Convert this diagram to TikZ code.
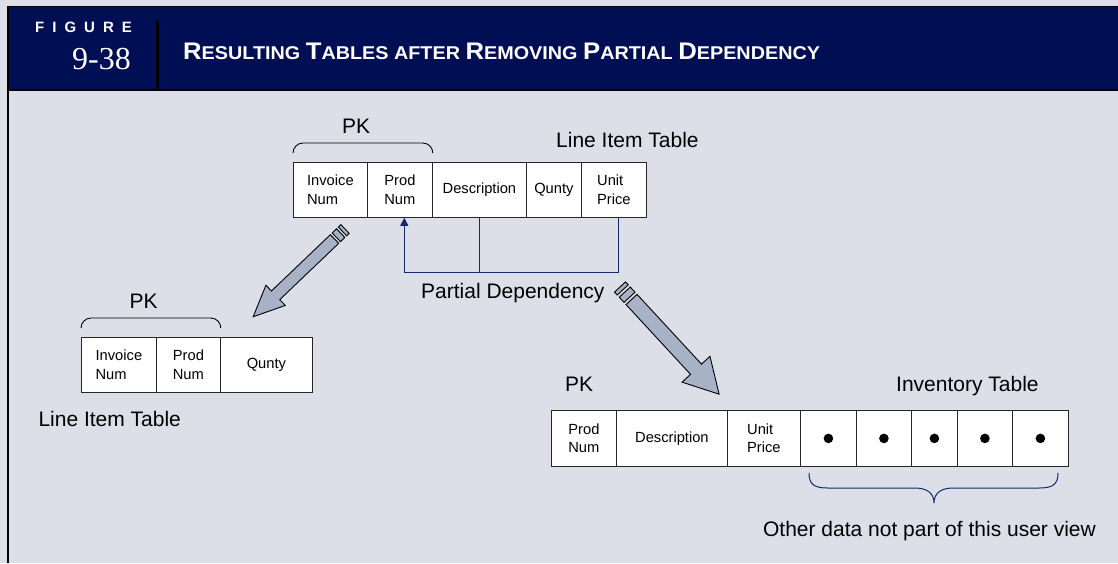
\documentclass[tikz,border=0pt]{standalone}
\usepackage{graphicx}
\usepackage{fontspec}
\setmainfont{Liberation Sans}
\newfontfamily\numfont{Liberation Serif}
\usetikzlibrary{arrows.meta}
\definecolor{bgc}{RGB}{220,223,232}
\definecolor{hdr}{RGB}{0,14,84}
\definecolor{arrfill}{RGB}{168,178,198}
\definecolor{depc}{RGB}{20,40,110}
\newcommand\smcap[2]{{\fontsize{24}{24}\selectfont #1}{\fontsize{18.5}{18.5}\selectfont #2}}
\begin{document}
\begin{tikzpicture}[x=1pt,y=-1pt,
  cell/.style={draw=black!85, line width=0.8pt, fill=white, inner sep=0pt,
    anchor=north west, font=\fontsize{14.7}{18.5}\selectfont, align=left},
  lbl/.style={font=\fontsize{21}{24}\selectfont, inner sep=0pt, anchor=base west},
  depline/.style={draw=depc, line width=1pt},
  fat/.style={fill=arrfill, draw=black, line width=0.9pt, line join=miter},
  pkbrace/.style={draw=black, line width=0.9pt, rounded corners=10pt},
  curly/.style={draw=depc, line width=1pt}
]
\useasboundingbox (0,0) rectangle (1118,563);
% background and header
\fill[bgc] (0,0) rectangle (1118,563);
\fill[hdr] (8,7) rectangle (1118,89);
\draw[line width=1.6pt] (7.5,6.6) -- (1118,6.6);
\draw[line width=2pt] (7.6,6) -- (7.6,563);
\draw[line width=2pt] (8,89.6) -- (1118,89.6);
\draw[line width=2.5pt] (157.3,21) -- (157.3,89);
\node[anchor=base west, inner sep=0pt, text=white, font=\fontsize{15}{15}\selectfont\bfseries] (figlbl) at (35,32.3)
  {F\hspace{8pt}I\hspace{8pt}G\hspace{8pt}U\hspace{8pt}R\hspace{8pt}E};
\node[anchor=base east, inner sep=0pt, text=white, font=\numfont\fontsize{32}{32}\selectfont] (fignum) at (131,69.3) {9-38};
\node[anchor=base west, inner sep=0pt, text=white, font=\fontsize{18.5}{20}\selectfont\bfseries] (title) at (183,59)
  {\scalebox{1.07}[1]{\smcap{R}{ESULTING} \smcap{T}{ABLES AFTER} \smcap{R}{EMOVING} \smcap{P}{ARTIAL} \smcap{D}{EPENDENCY}}};

% top table
\node[cell, minimum width=74pt, minimum height=55pt] (t1) at (293,162) {Invoice\\Num};
\node[cell, minimum width=65pt, minimum height=55pt] (t2) at (367,162) {Prod\\Num};
\node[cell, minimum width=94pt, minimum height=55pt] (t3) at (432,162) {Description};
\node[cell, minimum width=55pt, minimum height=55pt] (t4) at (526,162) {Qunty};
\node[cell, minimum width=65pt, minimum height=55pt] (t5) at (581,162) {Unit\\Price};
\draw[pkbrace] ([yshift=9pt]t1.north west) -- ++(0,-10) -| ([yshift=9pt]t2.north east);
\node[lbl] (pk1) at (342,133.3) {PK};
\node[lbl] (lit1) at (556,147) {Line Item Table};

% partial dependency connector
\coordinate (j) at (404.3,272);
\draw[depline] ([xshift=4.5pt]t5.south) |- (j);
\draw[depline] (t3.south) -- (t3.south |- j);
\draw[depline, -{Triangle[length=8pt,width=8pt]}] (j) -- (j |- t2.south);
\node[lbl] (pd) at (421,298) {Partial Dependency};

% bottom-left table
\node[cell, minimum width=75pt, minimum height=55pt] (b1) at (81,337) {Invoice\\Num};
\node[cell, minimum width=64pt, minimum height=55pt] (b2) at (156,337) {Prod\\Num};
\node[cell, minimum width=92pt, minimum height=55pt] (b3) at (220,337) {Qunty};
\draw[pkbrace] ([yshift=9pt]b1.north west) -- ++(0,-10) -| ([yshift=9pt]b2.north east);
\node[lbl] (pk2) at (129.5,308) {PK};
\node[lbl] (lit2) at (38.3,426.7) {Line Item Table};

% bottom-right table
\node[cell, minimum width=65pt, minimum height=56pt] (r1) at (551,410) {Prod\\Num};
\node[cell, minimum width=111pt, minimum height=56pt] (r2) at (616,410) {Description};
\node[cell, minimum width=73pt, minimum height=56pt] (r3) at (727,410) {Unit\\Price};
\node[cell, minimum width=56pt, minimum height=56pt] (r4) at (800,410) {};
\node[cell, minimum width=55pt, minimum height=56pt] (r5) at (856,410) {};
\node[cell, minimum width=46pt, minimum height=56pt] (r6) at (911,410) {};
\node[cell, minimum width=55pt, minimum height=56pt] (r7) at (957,410) {};
\node[cell, minimum width=56pt, minimum height=56pt] (r8) at (1012,410) {};
\foreach \c in {r4,r5,r6,r7,r8} \fill (\c.center) circle (4.8pt);
\node[lbl] (pk3) at (565,391.7) {PK};
\node[lbl] (inv) at (896,391.7) {Inventory Table};
\draw[curly] (809,473) .. controls (809,485) and (815,488) .. (828,488) -- (915,488)
  .. controls (928,488) and (934,494) .. (934,503)
  .. controls (934,494) and (940,488) .. (953,488) -- (1039,488)
  .. controls (1052,488) and (1058,485) .. (1058,473);
\node[lbl, anchor=base east] (oth) at (1096,536.7) {Other data not part of this user view};

% fat arrows
\begin{scope}[shift={(345,229)}, rotate=223.7]
  \draw[fat] (0,-6) rectangle (3.5,6);
  \draw[fat] (6,-6) rectangle (12,6);
  \draw[fat] (14.5,-6) -- (96,-6) -- (96,-14) -- (127,0) -- (96,14) -- (96,6) -- (14.5,6) -- cycle;
\end{scope}
\begin{scope}[shift={(620,287)}, rotate=-47.25]
  \draw[fat] (0,-7.5) rectangle (4,7.5);
  \draw[fat] (7,-7.5) rectangle (14,7.5);
  \draw[fat] (17,-7.5) -- (112,-7.5) -- (112,-19) -- (146,0) -- (112,19) -- (112,7.5) -- (17,7.5) -- cycle;
\end{scope}
\end{tikzpicture}
\end{document}
